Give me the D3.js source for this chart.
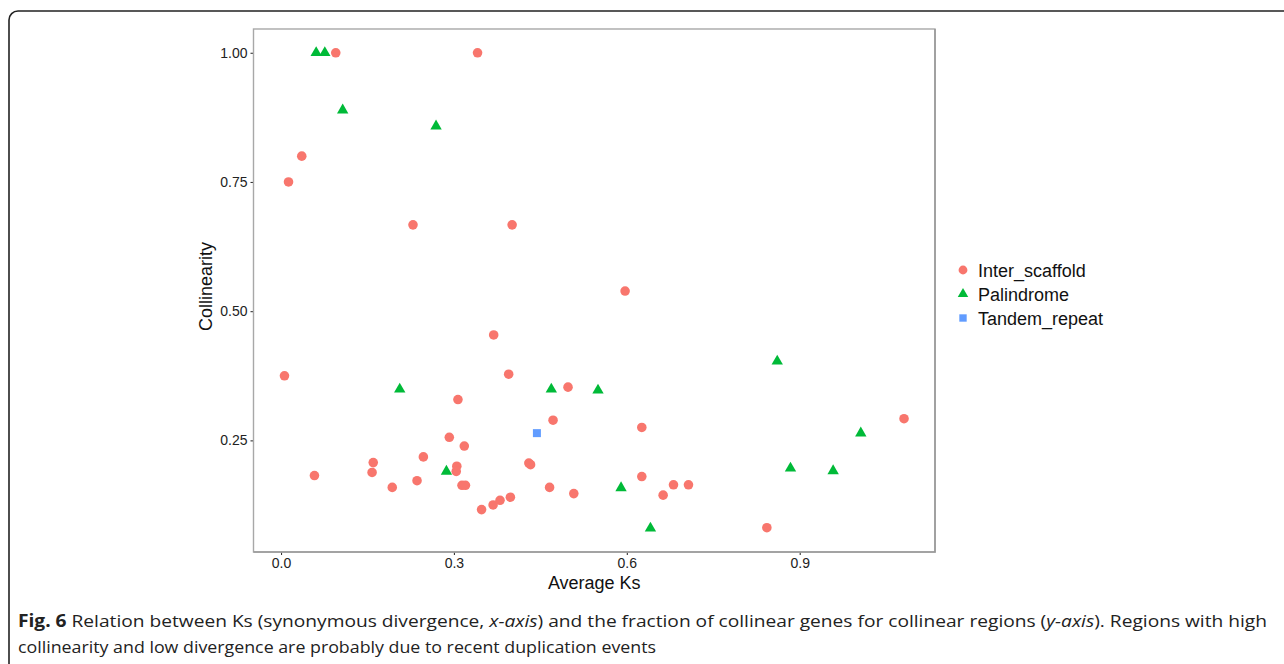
<!DOCTYPE html>
<html>
<head>
<meta charset="utf-8">
<script src="https://cdn.jsdelivr.net/npm/d3@7"></script>
<style>
  body { margin: 0; background: #fff; }
  svg { display: block; }
</style>
</head>
<body>
<script>
// data: [Average Ks, Collinearity]
const interScaffold = [
  [0.095, 1.0], [0.341, 1.0], [0.036, 0.80], [0.013, 0.75], [0.229, 0.667],
  [0.401, 0.667], [0.597, 0.539], [0.006, 0.375], [0.058, 0.182], [0.160, 0.207],
  [0.158, 0.188], [0.193, 0.159], [0.236, 0.172], [0.247, 0.218], [0.292, 0.256],
  [0.305, 0.200], [0.304, 0.190], [0.307, 0.329], [0.318, 0.239], [0.314, 0.163],
  [0.320, 0.163], [0.348, 0.116], [0.368, 0.125], [0.380, 0.134], [0.398, 0.140],
  [0.369, 0.454], [0.395, 0.378], [0.430, 0.206], [0.433, 0.203], [0.472, 0.289],
  [0.498, 0.353], [0.466, 0.159], [0.508, 0.147], [0.626, 0.275], [0.626, 0.180],
  [0.663, 0.144], [0.681, 0.164], [0.707, 0.164], [0.843, 0.081], [1.081, 0.292]
]
const palindrome = [
  [0.061, 1.0], [0.076, 1.0], [0.107, 0.889], [0.269, 0.858], [0.206, 0.349],
  [0.287, 0.190], [0.469, 0.349], [0.550, 0.347], [0.590, 0.158], [0.641, 0.080],
  [0.861, 0.403], [0.884, 0.196], [0.958, 0.191], [1.006, 0.264]
]
const tandemRepeat = [[0.444, 0.264]]

const groups = ['Inter_scaffold', 'Palindrome', 'Tandem_repeat']
const groupData = [interScaffold, palindrome, tandemRepeat]
const colors = ['#F8766D', '#00BA38', '#619CFF']
const shapes = [d3.symbolCircle, d3.symbolTriangle, d3.symbolSquare]
const shapeSize = [72, 56, 64]

const xTicks = [0, 0.3, 0.6, 0.9]
const yTicks = [0.25, 0.5, 0.75, 1.0]

const captionBold = 'Fig. 6'
const captionLine1 = ' Relation between Ks (synonymous divergence, '
const captionLine2 = 'collinearity and low divergence are probably due to recent duplication events'

const W = 1284, H = 664
const panel = {l: 253.5, t: 29, r: 935, b: 552}
const FONT = 'Liberation Sans, Arial, sans-serif'

const svg = d3.select('body').append('svg')
  .attr('width', W)
  .attr('height', H)

// figure frame (rounded, runs off the right and bottom)
svg.append('rect')
  .attr('x', 9).attr('y', 11)
  .attr('width', W + 20).attr('height', H + 20)
  .attr('rx', 9)
  .attr('fill', 'none')
  .attr('stroke', '#222')
  .attr('stroke-width', 1.6)

const allPts = groupData.flat()

// ggplot style 5% expansion
function expand(ext) {
  const pad = (ext[1] - ext[0]) * 0.05
  return [ext[0] - pad, ext[1] + pad]
}

const x = d3.scaleLinear()
  .domain(expand(d3.extent(allPts, d => d[0])))
  .range([panel.l, panel.r])
const y = d3.scaleLinear()
  .domain(expand(d3.extent(allPts, d => d[1])))
  .range([panel.b, panel.t])

// axes
const xAxis = svg.append('g')
  .attr('transform', `translate(0,${panel.b})`)
  .call(d3.axisBottom(x).tickValues(xTicks).tickFormat(d3.format('.1f')).tickSize(3).tickPadding(3))
const yAxis = svg.append('g')
  .attr('transform', `translate(${panel.l},0)`)
  .call(d3.axisLeft(y).tickValues(yTicks).tickFormat(d3.format('.2f')).tickSize(3).tickPadding(3))

for (const ax of [xAxis, yAxis]) {
  ax.attr('font-size', 14).attr('font-family', FONT)
  ax.select('.domain').remove()
  ax.selectAll('line').attr('stroke', '#333').attr('stroke-width', 1.1)
  ax.selectAll('text')
    .attr('fill', '#222')
    .attr('font-size', 14)
    .attr('font-family', FONT)
}

// panel border
svg.append('rect')
  .attr('x', panel.l).attr('y', panel.t)
  .attr('width', panel.r - panel.l).attr('height', panel.b - panel.t)
  .attr('fill', 'none')
  .attr('stroke', '#a8a8a8')
  .attr('stroke-width', 1.4)
// slightly darker right and bottom edge
svg.append('path')
  .attr('d', `M${panel.r},${panel.t} V${panel.b} H${panel.l}`)
  .attr('fill', 'none')
  .attr('stroke', '#999')
  .attr('stroke-width', 1.6)

// points
groupData.forEach((pts, i) => {
  svg.append('g').selectAll('path')
    .data(pts)
    .join('path')
      .attr('transform', d => `translate(${x(d[0])},${y(d[1])})`)
      .attr('d', d3.symbol().type(shapes[i]).size(shapeSize[i]))
      .attr('fill', colors[i])
})

// axis titles
svg.append('text')
  .attr('x', (panel.l + panel.r) / 2)
  .attr('y', 589)
  .attr('text-anchor', 'middle')
  .attr('font-family', FONT)
  .attr('font-size', 18)
  .attr('fill', '#111')
  .text('Average Ks')

svg.append('text')
  .attr('transform', `translate(212,${(panel.t + panel.b) / 2 - 4}) rotate(-90)`)
  .attr('text-anchor', 'middle')
  .attr('font-family', FONT)
  .attr('font-size', 18)
  .attr('fill', '#111')
  .text('Collinearity')

// legend
const legend = svg.append('g').attr('transform', 'translate(963,270)')
groups.forEach((g, i) => {
  const row = legend.append('g').attr('transform', `translate(0,${i * 24})`)
  row.append('path')
    .attr('d', d3.symbol().type(shapes[i]).size(shapeSize[i] * 0.85))
    .attr('fill', colors[i])
  row.append('text')
    .attr('x', 15)
    .attr('y', 6.5)
    .attr('font-family', FONT)
    .attr('font-size', 18)
    .attr('fill', '#111')
    .text(g)
})

// caption
const cap1 = svg.append('text')
  .attr('x', 18).attr('y', 627)
  .attr('textLength', 1249)
  .attr('lengthAdjust', 'spacingAndGlyphs')
  .attr('font-family', 'Open Sans, sans-serif')
  .attr('font-size', 17)
  .attr('fill', '#222')
cap1.append('tspan').attr('font-weight', 'bold').text(captionBold)
cap1.append('tspan').text(captionLine1)
cap1.append('tspan').attr('font-style', 'italic').text('x-axis')
cap1.append('tspan').text(') and the fraction of collinear genes for collinear regions (')
cap1.append('tspan').attr('font-style', 'italic').text('y-axis')
cap1.append('tspan').text('). Regions with high')

svg.append('text')
  .attr('x', 18).attr('y', 653)
  .attr('textLength', 638)
  .attr('lengthAdjust', 'spacingAndGlyphs')
  .attr('font-family', 'Open Sans, sans-serif')
  .attr('font-size', 17)
  .attr('fill', '#222')
  .text(captionLine2)
</script>
</body>
</html>
